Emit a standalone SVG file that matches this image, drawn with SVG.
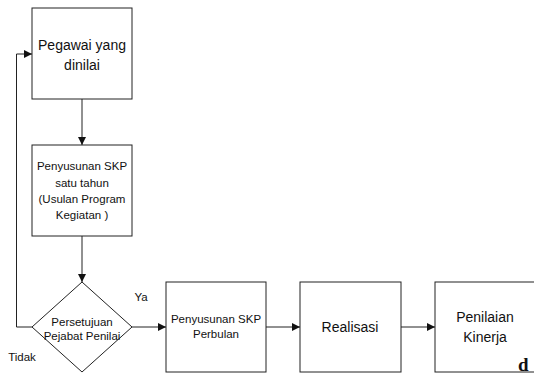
<svg xmlns="http://www.w3.org/2000/svg" width="534" height="376" viewBox="0 0 534 376">
<style>
.box{fill:#fff;stroke:#222;stroke-width:1}
.t{font-family:"Liberation Sans",Arial,sans-serif;fill:#111;text-anchor:middle}
.s{font-size:11.5px}
.m{font-size:14px}
.c{fill:none;stroke:#222;stroke-width:1}
</style>
<defs>
<marker id="ah" viewBox="0 0 10 10" refX="10" refY="5" markerWidth="8" markerHeight="8" markerUnits="userSpaceOnUse" orient="auto">
<path d="M0,0 L10,5 L0,10 Z" fill="#111"/>
</marker>
</defs>
<rect width="534" height="376" fill="#fff"/>
<g id="connectors">
<path class="c" d="M82,99 V145" marker-end="url(#ah)"/>
<path class="c" d="M82,236 V282" marker-end="url(#ah)"/>
<path class="c" d="M32,327 H16.5 V54 H32" marker-end="url(#ah)"/>
<path class="c" d="M132,327 H166" marker-end="url(#ah)"/>
<path class="c" d="M266,327 H300" marker-end="url(#ah)"/>
<path class="c" d="M401,327 H435" marker-end="url(#ah)"/>
<text class="t s" x="141" y="301">Ya</text>
<text class="t s" x="22" y="361">Tidak</text>
</g>
<g id="n1">
<rect class="box" x="32" y="8" width="100" height="91"/>
<text class="t m" x="82" y="50">Pegawai yang</text>
<text class="t m" x="82" y="70">dinilai</text>
</g>
<g id="n2">
<rect class="box" x="32" y="145" width="100" height="91"/>
<text class="t s" x="82" y="170">Penyusunan SKP</text>
<text class="t s" x="82" y="187">satu tahun</text>
<text class="t s" x="82" y="203">(Usulan Program</text>
<text class="t s" x="82" y="219">Kegiatan )</text>
</g>
<g id="n3">
<path class="box" d="M82,282 L132,327 L82,372 L32,327 Z"/>
<text class="t s" x="82" y="326">Persetujuan</text>
<text class="t s" x="82" y="340">Pejabat Penilai</text>
</g>
<g id="n4">
<rect class="box" x="166" y="282" width="100" height="90"/>
<text class="t s" x="216" y="323">Penyusunan SKP</text>
<text class="t s" x="216" y="338">Perbulan</text>
</g>
<g id="n5">
<rect class="box" x="300" y="282" width="101" height="90"/>
<text class="t m" x="350" y="332">Realisasi</text>
</g>
<g id="n6">
<rect class="box" x="435" y="282" width="101" height="90"/>
<text class="t m" x="485" y="322">Penilaian</text>
<text class="t m" x="485" y="342">Kinerja</text>
</g>
<text x="518" y="371" style="font-family:'Liberation Serif','Times New Roman',serif;font-weight:bold;font-size:19px;fill:#111">d</text>
</svg>
